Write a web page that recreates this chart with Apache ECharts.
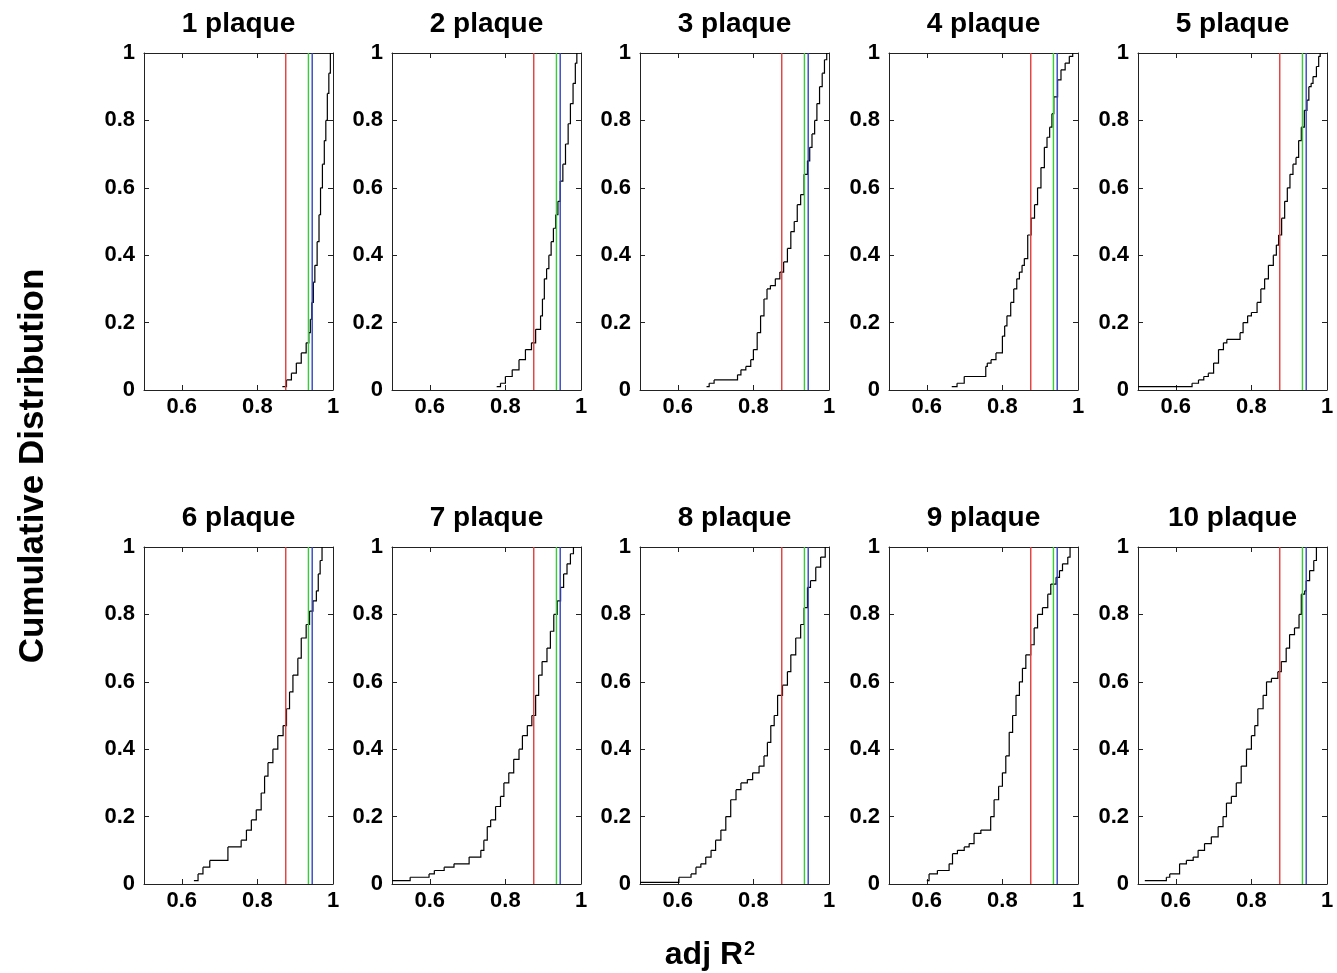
<!DOCTYPE html>
<html>
<head>
<meta charset="utf-8">
<script src="https://cdn.jsdelivr.net/npm/echarts@6/dist/echarts.min.js"></script>
<style>
  html, body { margin: 0; padding: 0; background: #fff; }
  #chart { width: 1337px; height: 973px; }
</style>
</head>
<body>
<div id="chart"></div>
<script>
// panel titles and reference thresholds (adj R2)
const panelTitles = ['1 plaque', '2 plaque', '3 plaque', '4 plaque', '5 plaque',
  '6 plaque', '7 plaque', '8 plaque', '9 plaque', '10 plaque']
const redX = 0.875
const greenX = 0.935
const blueX = 0.945
const xTickValues = [0.6, 0.8, 1]

const p1x = [0.866, 0.877, 0.890, 0.903, 0.916, 0.929, 0.936, 0.940, 0.944, 0.948, 0.952, 0.958, 0.963, 0.967, 0.972, 0.977, 0.981, 0.985, 0.989, 0.993]
const p1y = [0.01, 0.03, 0.05, 0.08, 0.11, 0.14, 0.17, 0.21, 0.26, 0.32, 0.37, 0.44, 0.52, 0.60, 0.67, 0.74, 0.80, 0.88, 0.94, 1.0]

const p2x = [0.777, 0.787, 0.800, 0.818, 0.836, 0.853, 0.869, 0.880, 0.893, 0.898, 0.903, 0.909, 0.915, 0.921, 0.927, 0.933, 0.939, 0.945, 0.952, 0.959, 0.966, 0.972, 0.979, 0.985, 0.989]
const p2y = [0.01, 0.02, 0.04, 0.06, 0.09, 0.12, 0.14, 0.18, 0.22, 0.27, 0.33, 0.36, 0.40, 0.44, 0.48, 0.52, 0.56, 0.62, 0.67, 0.73, 0.79, 0.85, 0.91, 0.97, 1.0]

const p3x = [0.676, 0.683, 0.696, 0.758, 0.767, 0.780, 0.793, 0.800, 0.810, 0.819, 0.828, 0.836, 0.845, 0.858, 0.870, 0.880, 0.890, 0.899, 0.908, 0.916, 0.925, 0.934, 0.943, 0.949, 0.955, 0.962, 0.968, 0.975, 0.982, 0.988, 0.994]
const p3y = [0.01, 0.02, 0.03, 0.045, 0.06, 0.07, 0.09, 0.12, 0.17, 0.22, 0.27, 0.30, 0.31, 0.33, 0.35, 0.38, 0.42, 0.47, 0.50, 0.55, 0.58, 0.64, 0.68, 0.72, 0.76, 0.80, 0.85, 0.90, 0.94, 0.98, 1.0]

const p4x = [0.666, 0.680, 0.699, 0.756, 0.760, 0.770, 0.783, 0.800, 0.806, 0.812, 0.822, 0.830, 0.838, 0.845, 0.852, 0.858, 0.867, 0.876, 0.885, 0.893, 0.902, 0.911, 0.918, 0.925, 0.931, 0.936, 0.946, 0.955, 0.966, 0.977, 0.986]
const p4y = [0.01, 0.02, 0.04, 0.07, 0.08, 0.09, 0.11, 0.16, 0.19, 0.22, 0.26, 0.30, 0.33, 0.35, 0.37, 0.39, 0.46, 0.51, 0.55, 0.60, 0.66, 0.72, 0.75, 0.78, 0.82, 0.87, 0.92, 0.95, 0.97, 0.99, 1.0]

const p5x = [0.5, 0.643, 0.660, 0.674, 0.686, 0.700, 0.713, 0.726, 0.735, 0.770, 0.778, 0.790, 0.800, 0.815, 0.825, 0.835, 0.845, 0.858, 0.866, 0.872, 0.880, 0.888, 0.895, 0.902, 0.910, 0.918, 0.925, 0.932, 0.940, 0.947, 0.952, 0.958, 0.963, 0.972, 0.978, 0.982]
const p5y = [0.01, 0.02, 0.03, 0.04, 0.05, 0.08, 0.12, 0.14, 0.15, 0.17, 0.20, 0.22, 0.23, 0.26, 0.30, 0.33, 0.37, 0.40, 0.43, 0.46, 0.51, 0.56, 0.60, 0.64, 0.67, 0.69, 0.74, 0.78, 0.83, 0.86, 0.90, 0.91, 0.93, 0.96, 0.99, 1.0]

const p6x = [0.632, 0.643, 0.656, 0.674, 0.722, 0.757, 0.771, 0.784, 0.797, 0.810, 0.819, 0.828, 0.841, 0.854, 0.868, 0.877, 0.885, 0.894, 0.907, 0.916, 0.929, 0.938, 0.947, 0.956, 0.961, 0.966, 0.971]
const p6y = [0.01, 0.03, 0.05, 0.07, 0.11, 0.13, 0.16, 0.19, 0.22, 0.27, 0.32, 0.36, 0.40, 0.44, 0.47, 0.52, 0.57, 0.62, 0.67, 0.73, 0.77, 0.81, 0.84, 0.87, 0.92, 0.96, 1.0]

const p7x = [0.5, 0.548, 0.598, 0.612, 0.638, 0.664, 0.704, 0.735, 0.743, 0.752, 0.761, 0.774, 0.787, 0.796, 0.809, 0.822, 0.836, 0.845, 0.858, 0.870, 0.880, 0.888, 0.897, 0.910, 0.919, 0.928, 0.937, 0.946, 0.954, 0.963, 0.972, 0.980]
const p7y = [0.01, 0.02, 0.03, 0.04, 0.05, 0.06, 0.08, 0.10, 0.13, 0.17, 0.19, 0.23, 0.26, 0.30, 0.33, 0.37, 0.40, 0.44, 0.47, 0.50, 0.56, 0.62, 0.66, 0.70, 0.75, 0.80, 0.84, 0.88, 0.92, 0.95, 0.98, 1.0]

const p8x = [0.5, 0.603, 0.635, 0.648, 0.661, 0.674, 0.688, 0.700, 0.714, 0.727, 0.740, 0.754, 0.767, 0.784, 0.798, 0.815, 0.828, 0.837, 0.846, 0.855, 0.864, 0.877, 0.890, 0.899, 0.912, 0.925, 0.934, 0.943, 0.951, 0.965, 0.978, 0.990]
const p8y = [0.005, 0.02, 0.03, 0.05, 0.06, 0.08, 0.10, 0.13, 0.16, 0.20, 0.25, 0.28, 0.30, 0.31, 0.33, 0.35, 0.38, 0.42, 0.47, 0.50, 0.56, 0.59, 0.63, 0.68, 0.73, 0.77, 0.82, 0.88, 0.90, 0.94, 0.97, 1.0]

const p9x = [0.600, 0.606, 0.628, 0.659, 0.668, 0.681, 0.699, 0.712, 0.725, 0.743, 0.769, 0.778, 0.790, 0.800, 0.809, 0.818, 0.827, 0.836, 0.845, 0.853, 0.862, 0.875, 0.884, 0.893, 0.906, 0.920, 0.928, 0.942, 0.951, 0.959, 0.973, 0.979]
const p9y = [0.01, 0.03, 0.04, 0.06, 0.09, 0.10, 0.11, 0.12, 0.15, 0.16, 0.20, 0.25, 0.29, 0.33, 0.38, 0.45, 0.50, 0.56, 0.60, 0.64, 0.68, 0.71, 0.76, 0.80, 0.82, 0.86, 0.89, 0.91, 0.93, 0.95, 0.97, 1.0]

const p10x = [0.518, 0.575, 0.584, 0.610, 0.628, 0.646, 0.659, 0.676, 0.694, 0.712, 0.725, 0.734, 0.747, 0.760, 0.773, 0.787, 0.800, 0.809, 0.817, 0.831, 0.840, 0.853, 0.870, 0.879, 0.892, 0.901, 0.914, 0.926, 0.932, 0.941, 0.945, 0.954, 0.965, 0.972]
const p10y = [0.01, 0.02, 0.03, 0.06, 0.07, 0.08, 0.10, 0.12, 0.14, 0.17, 0.20, 0.24, 0.26, 0.30, 0.35, 0.40, 0.44, 0.47, 0.52, 0.56, 0.60, 0.61, 0.63, 0.66, 0.70, 0.74, 0.76, 0.80, 0.86, 0.87, 0.90, 0.93, 0.96, 1.0]

const curvesX = [p1x, p2x, p3x, p4x, p5x, p6x, p7x, p8x, p9x, p10x]
const curvesY = [p1y, p2y, p3y, p4y, p5y, p6y, p7y, p8y, p9y, p10y]

// layout of the 2 x 5 panel grid (px)
const colLeft = [144, 392, 640, 889, 1138]
const rowTop = [53, 547]
const panelW = 189
const panelH = 337
const fontFam = '"Liberation Sans", Arial, Helvetica, sans-serif'
const axisColor = '#222'

const grids = []
const xAxes = []
const yAxes = []
const series = []
const graphics = []

// one step of the ECDF: horizontal at the old level, then the jump
function renderStep (params, api) {
  const a = api.coord([api.value(0), api.value(1)])
  const b = api.coord([api.value(2), api.value(1)])
  const c = api.coord([api.value(2), api.value(3)])
  return {
    type: 'polyline',
    shape: { points: [a, b, c] },
    style: { stroke: '#000', lineWidth: 1.2, fill: null }
  }
}

panelTitles.forEach((title, i) => {
  const left = colLeft[i % 5]
  const top = rowTop[Math.floor(i / 5)]
  grids.push({ left: left, top: top, width: panelW, height: panelH, containLabel: false })

  const tickStyle = { show: true, inside: true, length: 5, lineStyle: { color: axisColor } }
  const lineStyle = { show: true, onZero: false, lineStyle: { color: axisColor, width: 1 } }
  const labelStyle = { color: '#000', fontSize: 22, fontWeight: 'bold', fontFamily: fontFam }

  // bottom and top x axes
  xAxes.push({
    type: 'value', gridIndex: i, position: 'bottom', min: 0.5, max: 1,
    axisLine: lineStyle,
    axisTick: Object.assign({}, tickStyle, { customValues: [0.6, 0.8] }),
    axisLabel: Object.assign({}, labelStyle, {
      customValues: xTickValues, margin: 6,
      formatter: v => String(Math.round(v * 10) / 10)
    }),
    splitLine: { show: false }
  })
  xAxes.push({
    type: 'value', gridIndex: i, position: 'top', min: 0.5, max: 1,
    axisLine: lineStyle,
    axisTick: Object.assign({}, tickStyle, { customValues: [0.6, 0.8] }),
    axisLabel: { show: false },
    splitLine: { show: false }
  })
  // left and right y axes
  yAxes.push({
    type: 'value', gridIndex: i, position: 'left', min: 0, max: 1, interval: 0.2,
    axisLine: lineStyle,
    axisTick: tickStyle,
    axisLabel: Object.assign({}, labelStyle, { margin: 9 }),
    splitLine: { show: false }
  })
  yAxes.push({
    type: 'value', gridIndex: i, position: 'right', min: 0, max: 1, interval: 0.2,
    axisLine: lineStyle,
    axisTick: tickStyle,
    axisLabel: { show: false },
    splitLine: { show: false }
  })

  const xi = i * 2
  const yi = i * 2
  const vline = (x, color) => ({
    type: 'line', xAxisIndex: xi, yAxisIndex: yi, data: [[x, 0], [x, 1]],
    showSymbol: false, silent: true, lineStyle: { color: color, width: 1.4 }
  })
  series.push(vline(redX, '#e23b3b'))
  series.push(vline(greenX, '#35cf35'))
  series.push(vline(blueX, '#3345c4'))

  const xs = curvesX[i]
  const ys = curvesY[i]
  const steps = []
  for (let k = 0; k < xs.length - 1; k++) {
    steps.push([xs[k], ys[k], xs[k + 1], ys[k + 1]])
  }
  series.push({
    type: 'custom', xAxisIndex: xi, yAxisIndex: yi,
    encode: { x: [0, 2], y: [1, 3] },
    data: steps, silent: true,
    renderItem: renderStep
  })

  graphics.push({
    type: 'text', x: left + panelW / 2, y: top - 29,
    style: {
      text: title, fill: '#000', textAlign: 'center', textVerticalAlign: 'middle',
      font: 'bold 28px ' + fontFam
    }
  })
})

graphics.push({
  type: 'text', x: 33, y: 466, rotation: Math.PI / 2,
  style: {
    text: 'Cumulative Distribution', fill: '#000', textAlign: 'center', textVerticalAlign: 'middle',
    font: 'bold 35px ' + fontFam
  }
})
graphics.push({
  type: 'text', x: 710, y: 955,
  style: {
    text: '{a|adj R}{b|2}', fill: '#000', textAlign: 'center', textVerticalAlign: 'middle',
    font: 'bold 32px ' + fontFam,
    rich: {
      a: { fontSize: 32, fontWeight: 'bold', fontFamily: fontFam, fill: '#000', verticalAlign: 'bottom' },
      b: { fontSize: 20, fontWeight: 'bold', fontFamily: fontFam, fill: '#000', verticalAlign: 'top', padding: [0, 0, 0, 1] }
    }
  }
})

const chart = echarts.init(document.getElementById('chart'))
chart.setOption({
  animation: false,
  backgroundColor: '#fff',
  grid: grids,
  xAxis: xAxes,
  yAxis: yAxes,
  series: series,
  graphic: graphics
})
</script>
</body>
</html>
